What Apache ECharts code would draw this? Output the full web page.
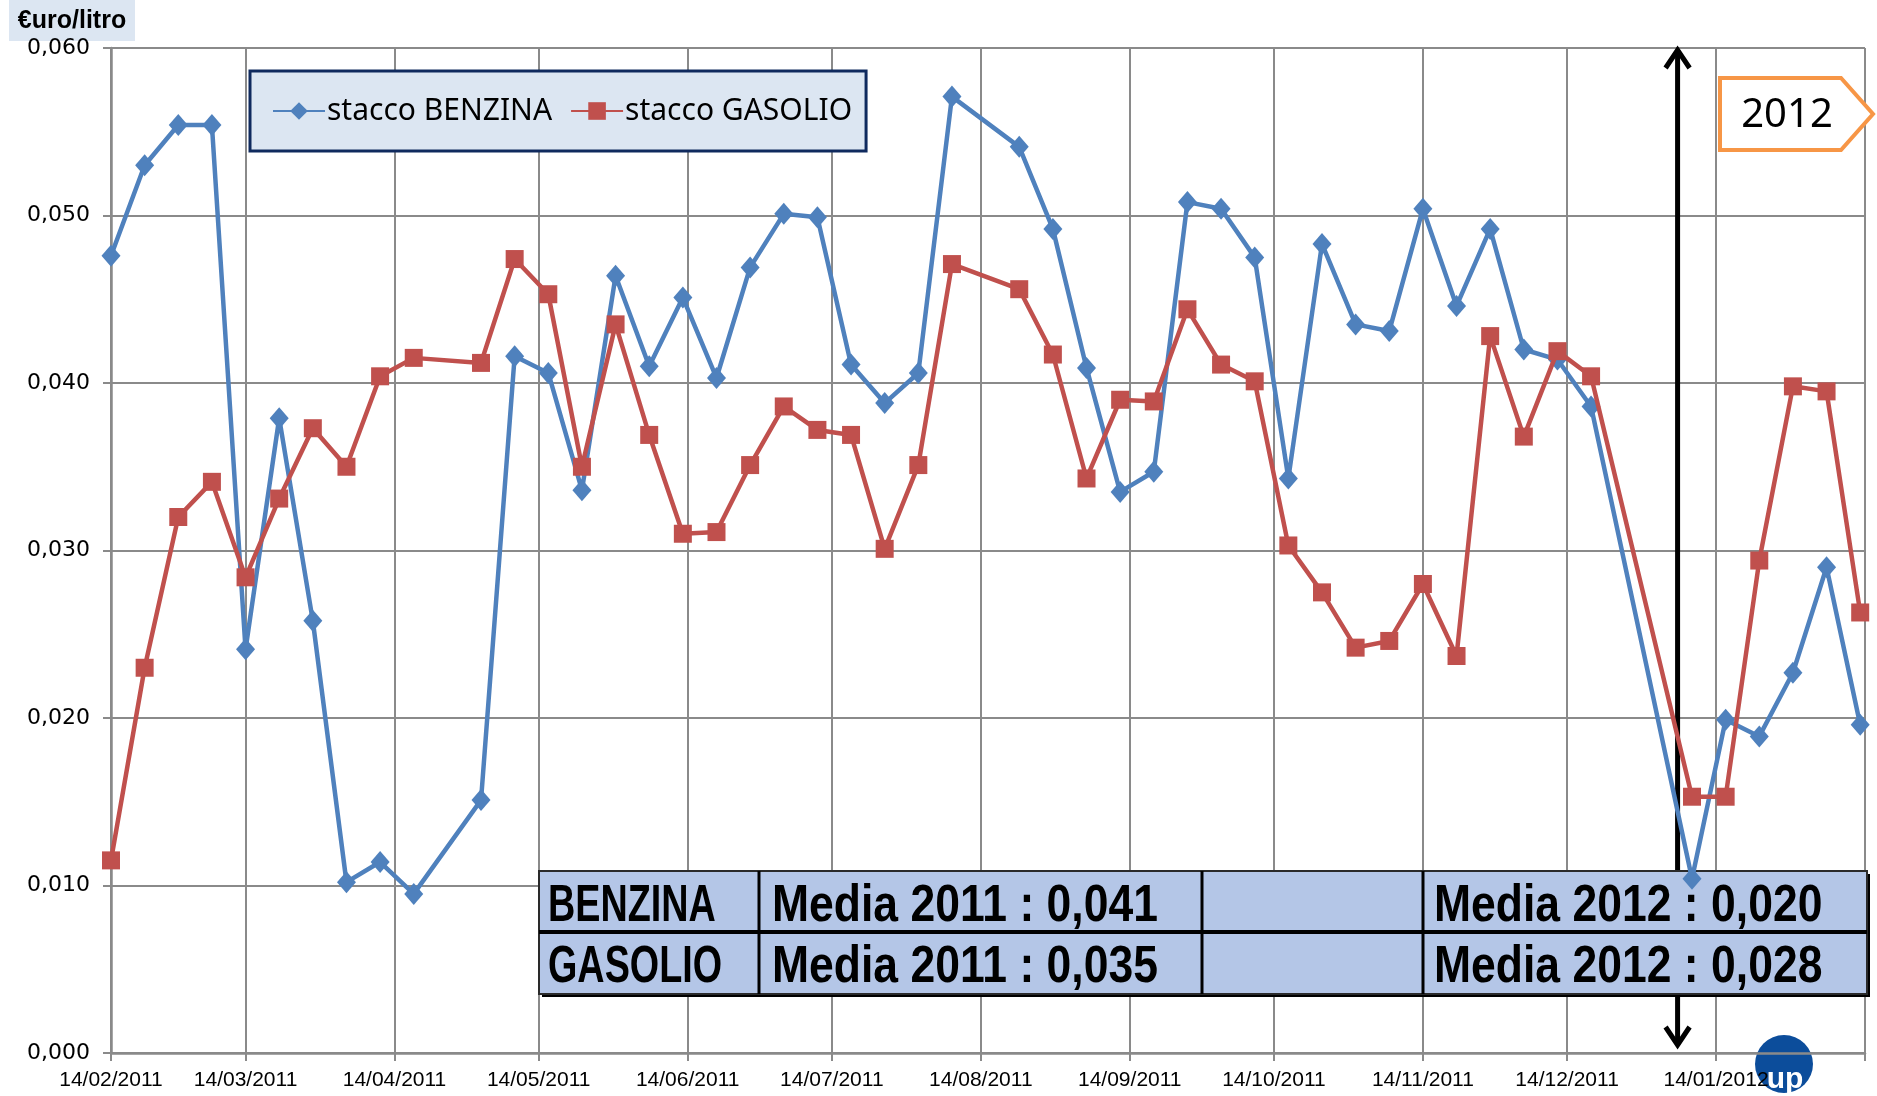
<!DOCTYPE html>
<html>
<head>
<meta charset="utf-8">
<script src="https://cdn.jsdelivr.net/npm/echarts@6/dist/echarts.min.js"></script>
<style>
  html, body { margin: 0; padding: 0; background: #fff; }
  #chart { width: 1877px; height: 1096px; }
</style>
</head>
<body>
<div id="chart"></div>
<script>
// weekly samples (missing weeks are simply absent)
const weeks = [
  "14/02/2011", "21/02/2011", "28/02/2011", "07/03/2011", "14/03/2011", "21/03/2011", "28/03/2011",
  "04/04/2011", "11/04/2011", "18/04/2011", "02/05/2011", "09/05/2011", "16/05/2011", "23/05/2011",
  "30/05/2011", "06/06/2011", "13/06/2011", "20/06/2011", "27/06/2011", "04/07/2011", "11/07/2011",
  "18/07/2011", "25/07/2011", "01/08/2011", "08/08/2011", "22/08/2011", "29/08/2011", "05/09/2011",
  "12/09/2011", "19/09/2011", "26/09/2011", "03/10/2011", "10/10/2011", "17/10/2011", "24/10/2011",
  "31/10/2011", "07/11/2011", "14/11/2011", "21/11/2011", "28/11/2011", "05/12/2011", "12/12/2011",
  "19/12/2011", "09/01/2012", "16/01/2012", "23/01/2012", "30/01/2012", "06/02/2012", "13/02/2012"
];
const benzina = [
  0.0476, 0.0530, 0.0554, 0.0554, 0.0241, 0.0379, 0.0258,
  0.0102, 0.0114, 0.0095, 0.0151, 0.0416, 0.0406, 0.0336,
  0.0464, 0.0410, 0.0451, 0.0403, 0.0469, 0.0501, 0.0499,
  0.0411, 0.0388, 0.0406, 0.0571, 0.0541, 0.0492, 0.0409,
  0.0335, 0.0347, 0.0508, 0.0504, 0.0475, 0.0343, 0.0483,
  0.0435, 0.0431, 0.0504, 0.0446, 0.0492, 0.0420, 0.0414,
  0.0386, 0.0104, 0.0199, 0.0189, 0.0227, 0.0290, 0.0196
];
const gasolio = [
  0.0115, 0.0230, 0.0320, 0.0341, 0.0284, 0.0331, 0.0373,
  0.0350, 0.0404, 0.0415, 0.0412, 0.0474, 0.0453, 0.0350,
  0.0435, 0.0369, 0.0310, 0.0311, 0.0351, 0.0386, 0.0372,
  0.0369, 0.0301, 0.0351, 0.0471, 0.0456, 0.0417, 0.0343,
  0.0390, 0.0389, 0.0444, 0.0411, 0.0401, 0.0303, 0.0275,
  0.0242, 0.0246, 0.0280, 0.0237, 0.0428, 0.0368, 0.0419,
  0.0404, 0.0153, 0.0153, 0.0294, 0.0398, 0.0395, 0.0263
];
const seriesNames = ["stacco BENZINA", "stacco GASOLIO"];
const tableRows = ["BENZINA", "GASOLIO"];
const media2011 = ["0,041", "0,035"];
const media2012 = ["0,020", "0,028"];
const yearMarkDate = "06/01/2012";
const yearLabel = "2012";

function pad(n) { return n < 10 ? "0" + n : "" + n; }

// one category per day, 14/02/2011 .. 14/02/2012
const start = Date.UTC(2011, 1, 14);
const days = [];
for (let i = 0; i <= 365; i++) {
  const d = new Date(start + i * 86400000);
  days.push(pad(d.getUTCDate()) + "/" + pad(d.getUTCMonth() + 1) + "/" + d.getUTCFullYear());
}
function toDaily(vals) {
  const arr = days.map(() => null);
  weeks.forEach((w, i) => { arr[days.indexOf(w)] = vals[i]; });
  return arr;
}
function isMonthTick(index, value) { return value.slice(0, 2) === "14"; }

const gridColor = "#8a8a8a";

let chart = echarts.init(document.getElementById("chart"));

let option = {
  animation: false,
  backgroundColor: "#fff",
  grid: { left: 111, right: 12, top: 48, bottom: 43, containLabel: false },
  legend: {
    left: 250,
    top: 71,
    padding: [25, 14, 25, 22],
    itemGap: 18,
    itemWidth: 52,
    itemHeight: 22,
    backgroundColor: "#dce6f2",
    borderColor: "#0f2a5e",
    borderWidth: 3,
    textStyle: { fontFamily: "'Noto Sans', sans-serif", fontSize: 30, color: "#000", padding: [0, 0, 0, -3] },
    data: seriesNames
  },
  xAxis: {
    type: "category",
    boundaryGap: false,
    data: days,
    axisLine: { lineStyle: { color: gridColor, width: 2.5 } },
    axisTick: { show: true, length: 8, interval: isMonthTick, lineStyle: { color: gridColor, width: 2 } },
    axisLabel: {
      interval: function (index, value) { return isMonthTick(index, value) && index < days.length - 1; },
      fontFamily: "'Liberation Sans', sans-serif",
      fontSize: 21,
      color: "#000",
      margin: 17
    },
    splitLine: { show: true, interval: isMonthTick, lineStyle: { color: gridColor, width: 2 } }
  },
  yAxis: {
    type: "value",
    min: 0,
    max: 0.06,
    interval: 0.01,
    axisLine: { show: true, lineStyle: { color: gridColor, width: 2.5 } },
    axisTick: { show: true, length: 8, lineStyle: { color: gridColor, width: 2 } },
    axisLabel: {
      fontFamily: "'DejaVu Sans', sans-serif",
      fontSize: 22,
      color: "#000",
      margin: 21,
      formatter: function (v) { return v.toFixed(3).replace(".", ","); }
    },
    splitLine: { lineStyle: { color: gridColor, width: 2 } }
  },
  series: [
    {
      name: seriesNames[0],
      type: "line",
      data: toDaily(benzina),
      connectNulls: true,
      showAllSymbol: true,
      symbol: "diamond",
      symbolSize: [19, 22],
      lineStyle: { color: "#4f81bd", width: 4.5 },
      itemStyle: { color: "#4f81bd" },
      z: 2
    },
    {
      name: seriesNames[1],
      type: "line",
      data: toDaily(gasolio),
      connectNulls: true,
      showAllSymbol: true,
      symbol: "rect",
      symbolSize: 18,
      lineStyle: { color: "#c0504d", width: 4.5 },
      itemStyle: { color: "#c0504d" },
      z: 3
    }
  ]
};

chart.setOption(option);

// annotations placed through the axes
let ax = chart.convertToPixel({ xAxisIndex: 0 }, yearMarkDate);
let yTop = chart.convertToPixel({ yAxisIndex: 0 }, 0.06);
let yBot = chart.convertToPixel({ yAxisIndex: 0 }, 0) - 8;

// table geometry
const tx = [539, 759, 1202, 1423, 1867];
const ty = [871, 932, 994];
const tableFont = "bold 50px 'Liberation Sans', sans-serif";
let tableChildren = [
  { type: "rect", shape: { x: tx[0] + 3, y: ty[0] + 3, width: tx[4] - tx[0], height: ty[2] - ty[0] }, style: { fill: "#000" } },
  { type: "rect", shape: { x: tx[0], y: ty[0], width: tx[4] - tx[0], height: ty[2] - ty[0] }, style: { fill: "#b4c6e7", stroke: "#2a2a2a", lineWidth: 2 } },
  { type: "line", shape: { x1: tx[0], y1: ty[1], x2: tx[4], y2: ty[1] }, style: { stroke: "#000", lineWidth: 4 } }
];
[1, 2, 3].forEach(function (c) {
  tableChildren.push({ type: "line", shape: { x1: tx[c], y1: ty[0], x2: tx[c], y2: ty[2] }, style: { stroke: "#000", lineWidth: 3 } });
});
function cellText(x, y, text, sx) {
  return {
    type: "text", x: x, y: y, scaleX: sx, scaleY: 1.04,
    style: { text: text, font: tableFont, fill: "#000", textVerticalAlign: "middle" }
  };
}
tableRows.forEach(function (r, i) {
  let cy = (ty[i] + ty[i + 1]) / 2 + 5;
  tableChildren.push(cellText(tx[0] + 9, cy, r, 0.755));
  tableChildren.push(cellText(tx[1] + 13, cy, "Media 2011 : " + media2011[i], 0.89));
  tableChildren.push(cellText(tx[3] + 11, cy, "Media 2012 : " + media2012[i], 0.89));
});

chart.setOption({
  graphic: [
    // vertical year separator arrow
    {
      type: "group", z: 50,
      children: [
        { type: "line", shape: { x1: ax, y1: yTop + 2, x2: ax, y2: yBot }, style: { stroke: "#000", lineWidth: 5 } },
        { type: "polyline", shape: { points: [[ax - 12, yTop + 20], [ax, yTop + 2], [ax + 12, yTop + 20]] }, style: { stroke: "#000", lineWidth: 5, fill: null } },
        { type: "polyline", shape: { points: [[ax - 12, yBot - 18], [ax, yBot], [ax + 12, yBot - 18]] }, style: { stroke: "#000", lineWidth: 5, fill: null } }
      ]
    },
    { type: "group", z: 60, children: tableChildren },
    // 2012 tag
    {
      type: "group", z: 60,
      children: [
        { type: "polygon", shape: { points: [[1720, 78], [1841, 78], [1873, 114], [1841, 150], [1720, 150]] }, style: { fill: "#fff", stroke: "#f79646", lineWidth: 4 } },
        { type: "text", x: 1787, y: 116, style: { text: yearLabel, font: "40px 'Noto Sans', sans-serif", fill: "#000", textAlign: "center", textVerticalAlign: "middle" } }
      ]
    },
    // unit label
    {
      type: "group", z: 60,
      children: [
        { type: "rect", shape: { x: 9, y: 0, width: 126, height: 41 }, style: { fill: "#dce6f2" } },
        { type: "text", x: 72, y: 21, style: { text: "€uro/litro", font: "bold 25px 'Liberation Sans', sans-serif", fill: "#000", textAlign: "center", textVerticalAlign: "middle" } }
      ]
    },
    // logo
    {
      type: "group", z: 70,
      children: [
        { type: "circle", shape: { cx: 1784, cy: 1064, r: 29 }, style: { fill: "#0c4d9b" } },
        { type: "text", x: 1785, y: 1080, style: { text: "up", font: "bold 30px 'Liberation Sans', sans-serif", fill: "#fff", textAlign: "center", textVerticalAlign: "middle" } }
      ]
    }
  ]
});
</script>
</body>
</html>
